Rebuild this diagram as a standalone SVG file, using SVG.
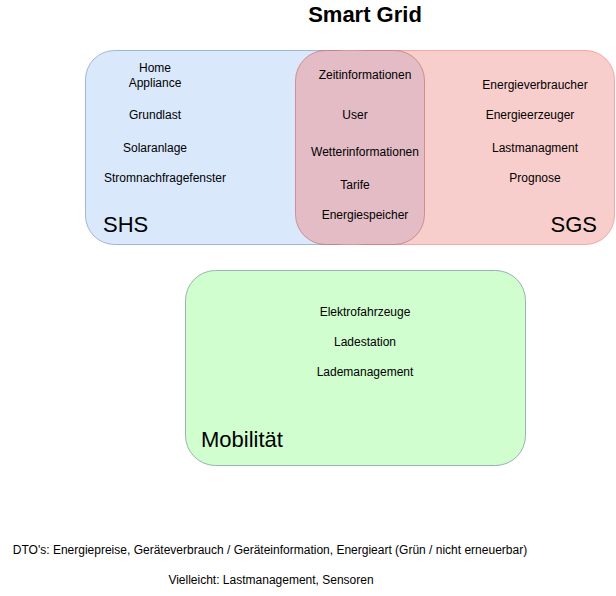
<svg xmlns="http://www.w3.org/2000/svg" width="616" height="596" viewBox="0 0 616 596">
<style>
text{font-family:"Liberation Sans",Arial,sans-serif;fill:#000}
.s{font-size:12px;text-anchor:middle}
.big{font-size:22px}
.title{font-size:22px;font-weight:bold;text-anchor:middle}
</style>
<rect width="616" height="596" fill="#fff"/>
<g id="shs">
<rect x="85.5" y="50.5" width="280" height="194" rx="29" fill="#dae8fc" stroke="#6c8ebf" stroke-opacity="0.6"/>
<text class="s" x="155" y="72">Home</text>
<text class="s" x="155" y="87">Appliance</text>
<text class="s" x="155" y="119">Grundlast</text>
<text class="s" x="155" y="152">Solaranlage</text>
<text class="s" x="165" y="182">Stromnachfragefenster</text>
<text class="big" x="103" y="232">SHS</text>
</g>
<g id="sgs">
<rect x="335.5" y="50.5" width="279" height="194" rx="29" fill="#f8cecc" stroke="#ea6b66" stroke-opacity="0.5"/>
<text class="s" x="535" y="89">Energieverbraucher</text>
<text class="s" x="530" y="119">Energieerzeuger</text>
<text class="s" x="535" y="152">Lastmanagment</text>
<text class="s" x="535" y="182">Prognose</text>
<text class="big" x="597" y="232" text-anchor="end">SGS</text>
</g>
<g id="overlap">
<rect x="295.5" y="50.5" width="129" height="194" rx="30" fill="#e3bcc6" stroke="#b85450" stroke-opacity="0.5"/>
<text class="s" x="365" y="79">Zeitinformationen</text>
<text class="s" x="355" y="119">User</text>
<text class="s" x="365" y="156">Wetterinformationen</text>
<text class="s" x="355" y="189">Tarife</text>
<text class="s" x="365" y="219">Energiespeicher</text>
</g>
<g id="mobilitaet">
<rect x="185.5" y="270.5" width="340" height="195" rx="30" fill="#d0fecf" stroke="#99b3b0"/>
<text class="s" x="365" y="316">Elektrofahrzeuge</text>
<text class="s" x="365" y="346">Ladestation</text>
<text class="s" x="365" y="376">Lademanagement</text>
<text class="big" x="201" y="447">Mobilität</text>
</g>
<g id="labels">
<text class="title" x="365" y="22">Smart Grid</text>
<text class="s" x="270" y="554">DTO's: Energiepreise, Geräteverbrauch / Geräteinformation, Energieart (Grün / nicht erneuerbar)</text>
<text class="s" x="271" y="584">Vielleicht: Lastmanagement, Sensoren</text>
</g>
<g id="connectors"></g>
</svg>
